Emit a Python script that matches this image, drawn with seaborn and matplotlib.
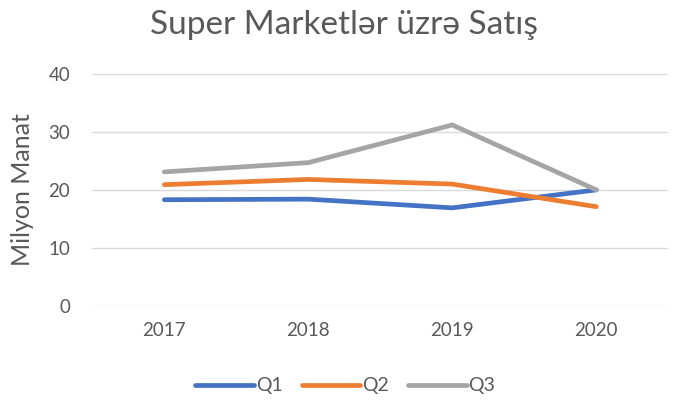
import pandas as pd
import matplotlib
matplotlib.use("Agg")
import matplotlib.pyplot as plt
import seaborn as sns

# Data
years = ["2017", "2018", "2019", "2020"]
q1 = [18.3, 18.4, 16.9, 20.0]
q2 = [20.9, 21.8, 21.0, 17.1]
q3 = [23.1, 24.7, 31.2, 20.0]
series_names = ["Q1", "Q2", "Q3"]
colors = ["#4472C4", "#ED7D31", "#A5A5A5"]

df = pd.DataFrame({"Il": years * 3,
                   "Deger": q1 + q2 + q3,
                   "Seriya": [s for s in series_names for _ in years]})

sns.set_theme(style="white")
plt.rcParams['font.family'] = ['Lato', 'DejaVu Sans']

fig = plt.figure(figsize=(6.84, 4.04), dpi=100)
ax = fig.add_axes([0.135, 0.243, 0.842, 0.574])

sns.lineplot(data=df, x="Il", y="Deger", hue="Seriya", palette=colors,
             linewidth=3.4, ax=ax, sort=False, legend=False)
for ln in ax.lines:
    ln.set_solid_capstyle("round")
    ln.set_solid_joinstyle("miter")

ax.set_xlim(-0.5, 3.5)
ax.set_ylim(0, 40)
ax.set_yticks([0, 10, 20, 30, 40])
ax.yaxis.grid(True, color="#D9D9D9", linewidth=1)
ax.set_axisbelow(True)
for s in ax.spines.values():
    s.set_visible(False)
ax.tick_params(axis="both", colors="#595959", labelsize=13.5, length=0, pad=16)
ax.tick_params(axis="x", pad=12)
ax.set_xlabel("")
ax.set_ylabel("Milyon Manat", fontsize=18, color="#595959", labelpad=10)

fig.suptitle("Super Marketlər üzrə Satış", fontsize=24, color="#595959", y=0.975, x=0.503)

handles = [plt.Line2D([], [], color=c, linewidth=3.4, solid_capstyle="round") for c in colors]
fig.legend(handles, series_names, loc="center", bbox_to_anchor=(0.505, 0.045), ncol=3,
           frameon=False, fontsize=14, labelcolor="#595959", handlelength=3.0,
           handletextpad=0.1, columnspacing=1.0)

fig.savefig("out.png", dpi=100)
